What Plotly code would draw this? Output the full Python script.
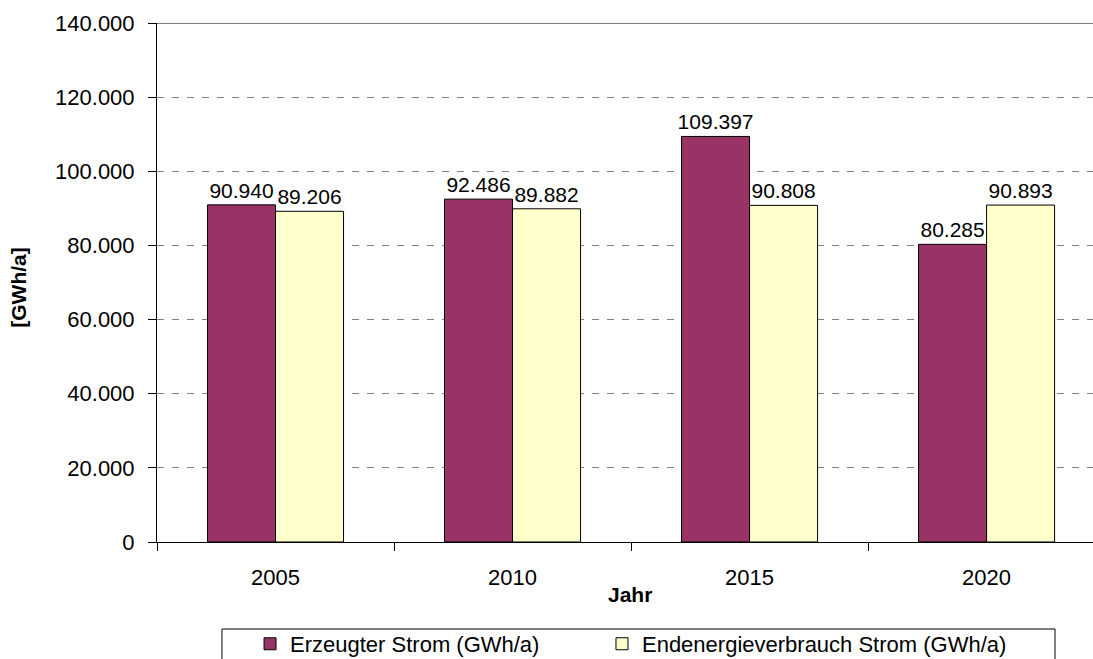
import plotly.graph_objects as go

years = ["2005", "2010", "2015", "2020"]
erzeugt = [90940, 92486, 109397, 80285]
verbrauch = [89206, 89882, 90808, 90893]
series_names = ["Erzeugter Strom (GWh/a)", "Endenergieverbrauch Strom (GWh/a)"]
y_ticks = [0, 20000, 40000, 60000, 80000, 100000, 120000, 140000]

FONT = "Liberation Sans, Arial, sans-serif"
FS = 22
LABEL_FS = 21

fig = go.Figure()
fig.add_trace(go.Bar(
    x=years, y=erzeugt, name=series_names[0], legend="legend",
    marker=dict(color="#993366", line=dict(color="black", width=1)),
    texttemplate="%{y:,d}", textposition="outside", constraintext="none",
    textfont=dict(size=LABEL_FS, color="black", family=FONT), cliponaxis=False,
))
fig.add_trace(go.Bar(
    x=years, y=verbrauch, name=series_names[1], legend="legend2",
    marker=dict(color="#FFFFCC", line=dict(color="black", width=1)),
    texttemplate="%{y:,d}", textposition="outside", constraintext="none",
    textfont=dict(size=LABEL_FS, color="black", family=FONT), cliponaxis=False,
))

legend_common = dict(orientation="h", xanchor="left", y=-0.156, yanchor="top",
                     font=dict(size=FS, family=FONT), itemwidth=30,
                     bgcolor="rgba(0,0,0,0)", borderwidth=0)

fig.update_layout(
    width=1093, height=659,
    margin=dict(l=157, r=0, t=23, b=117, autoexpand=False),
    paper_bgcolor="white", plot_bgcolor="white",
    separators=",.",
    font=dict(family=FONT, size=FS, color="black"),
    barmode="group", bargap=0.426, bargroupgap=0,
    showlegend=True,
    legend=dict(x=0.0994, **legend_common),
    legend2=dict(x=0.4754, **legend_common),
    xaxis=dict(
        range=[-0.5, 3.449], showline=True, linecolor="black", linewidth=1,
        ticks="outside", tickson="boundaries", ticklen=8, tickcolor="black",
        showgrid=False, ticklabelstandoff=16, tickfont=dict(size=FS),
    ),
    yaxis=dict(
        range=[0, 140000], tickvals=y_ticks, tickformat=",d",
        showline=True, linecolor="black", linewidth=1,
        ticks="outside", ticklen=8, tickcolor="black",
        showgrid=True, gridcolor="#808080", gridwidth=1, griddash="7px,8px",
        zeroline=False, ticklabelstandoff=9, tickfont=dict(size=FS),
    ),
    annotations=[
        dict(text="<b>Jahr</b>", xref="paper", yref="paper", x=0.5053, y=-0.102,
             xanchor="center", yanchor="middle", showarrow=False, font=dict(size=21)),
        dict(text="<b>[GWh/a]</b>", xref="paper", yref="paper", x=-0.1474, y=0.49,
             xanchor="center", yanchor="middle", showarrow=False, textangle=-90,
             font=dict(size=21)),
    ],
    shapes=[
        dict(type="line", xref="paper", yref="y", x0=0, x1=1, y0=140000, y1=140000,
             line=dict(color="#808080", width=2)),
        dict(type="rect", xref="paper", yref="paper", x0=0.0694, x1=0.9594,
             y0=-0.1676, y1=-0.25, line=dict(color="black", width=1)),
    ],
)

fig.write_html("out.html", config={"displayModeBar": False},
               post_script="document.body.style.margin='0';document.body.style.overflow='hidden';")
